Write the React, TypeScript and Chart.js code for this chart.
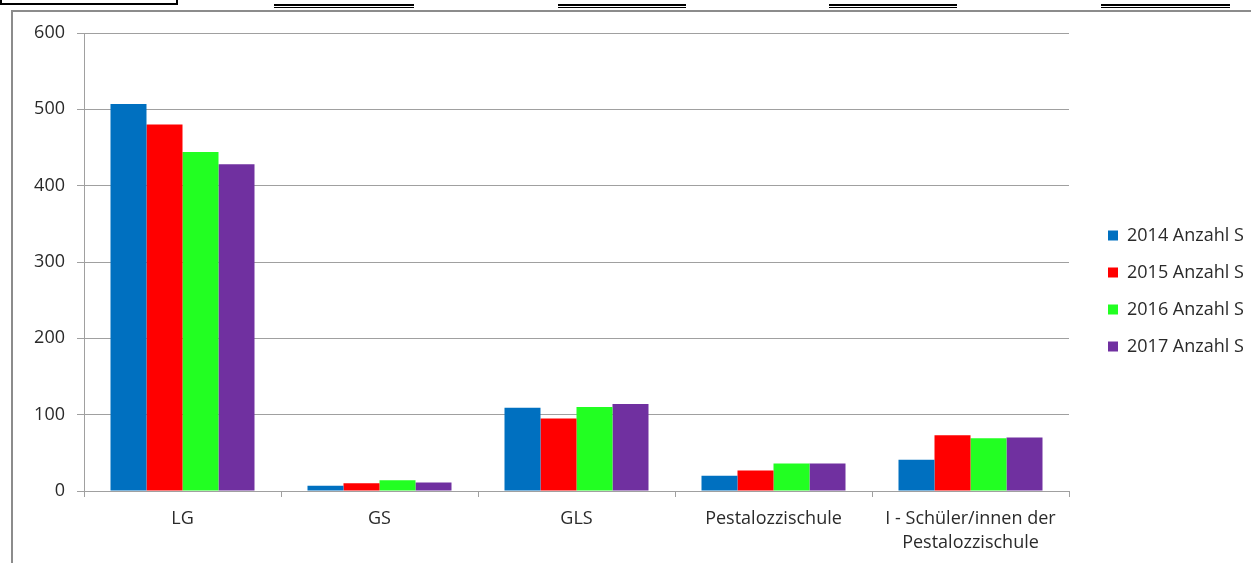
import React, { useEffect, useRef } from "react";
import { Chart, registerables } from "chart.js";

Chart.register(...registerables);

const categories: (string | string[])[] = [
  "LG",
  "GS",
  "GLS",
  "Pestalozzischule",
  ["I - Schüler/innen der", "Pestalozzischule"],
];
const seriesNames = ["2014 Anzahl S", "2015 Anzahl S", "2016 Anzahl S", "2017 Anzahl S"];
const values2014 = [507, 7, 109, 20, 41];
const values2015 = [480, 10, 95, 27, 73];
const values2016 = [444, 14, 110, 36, 69];
const values2017 = [428, 11, 114, 36, 70];
const seriesColors = ["#0070C0", "#FF0000", "#22FF22", "#7030A0"];
const yTickMin = 0;
const yTickMax = 600;
const yTickStep = 100;

const W = 1251;
const H = 563;
const PLOT_LEFT = 84;
const PLOT_TOP = 33;
const PLOT_RIGHT = 1069;
const PLOT_BOTTOM = 491;

export default function App() {
  const ref = useRef<HTMLCanvasElement | null>(null);

  useEffect(() => {
    if (!ref.current) return;
    const gridColor = "#a0a0a0";
    const textColor = "#2a2a2a";
    const font = { family: "'Open Sans', sans-serif", size: 18, lineHeight: 1.34 };

    const legendFix = {
      id: "legendFix",
      beforeInit(chart: any) {
        const lg = chart.legend;
        if (!lg) return;
        const origFit = lg.fit;
        lg.fit = function () {
          origFit.call(this);
          this.width = W - PLOT_RIGHT;
        };
      },
      afterLayout(chart: any) {
        const lg = chart.legend;
        if (!lg) return;
        lg.left += 20;
        lg.right += 20;
        lg.top -= 7;
        lg.bottom -= 7;
      },
    };

    const chart = new Chart(ref.current, {
      type: "bar",
      data: {
        labels: categories as any,
        datasets: [values2014, values2015, values2016, values2017].map((v, i) => ({
          label: seriesNames[i],
          data: v,
          backgroundColor: seriesColors[i],
          borderWidth: 0,
          barPercentage: 1,
          categoryPercentage: 0.731,
        })),
      },
      options: {
        responsive: false,
        animation: false,
        layout: { padding: { top: PLOT_TOP, left: 0, right: 0, bottom: 0 } },
        plugins: {
          legend: {
            position: "right",
            labels: {
              boxWidth: 10,
              boxHeight: 10,
              padding: 19,
              color: textColor,
              font,
            },
          },
          tooltip: { enabled: false },
        },
        scales: {
          x: {
            grid: {
              offset: true,
              drawOnChartArea: false,
              drawTicks: true,
              tickLength: 6,
              color: gridColor,
            },
            border: { color: gridColor },
            ticks: { color: textColor, font, padding: 10, maxRotation: 0, autoSkip: false },
            afterFit(scale: any) {
              scale.height = H - PLOT_BOTTOM;
            },
          },
          y: {
            min: yTickMin,
            max: yTickMax,
            grid: { color: gridColor, tickLength: 7, drawTicks: true },
            border: { color: gridColor },
            ticks: { stepSize: yTickStep, color: textColor, font, padding: 12 },
            afterFit(scale: any) {
              scale.width = PLOT_LEFT;
            },
          },
        },
      },
      plugins: [legendFix],
    });
    return () => chart.destroy();
  }, []);

  return (
    <div style={{ position: "absolute", left: 0, top: 0, width: W, height: H, overflow: "hidden", background: "#fff" }}>
      <canvas ref={ref} width={W} height={H} style={{ position: "absolute", left: 0, top: 0, width: W, height: H }} />
      {/* surrounding frame */}
      <div style={{ position: "absolute", left: 11, top: 10, width: W, height: H, borderLeft: "2px solid #8c8c8c", borderTop: "2px solid #8c8c8c", boxSizing: "border-box", pointerEvents: "none" }} />
      <div style={{ position: "absolute", left: 0, top: -2, width: 178, height: 7, border: "2px solid #000", boxSizing: "border-box" }} />
      {[[274, 414], [558, 686], [829, 957], [1101, 1230]].map(([a, b], i) => (
        <div key={i} style={{ position: "absolute", left: a, top: 4, width: b - a, height: 1, borderTop: "2px solid #000", borderBottom: "1px solid #000" }} />
      ))}
    </div>
  );
}
